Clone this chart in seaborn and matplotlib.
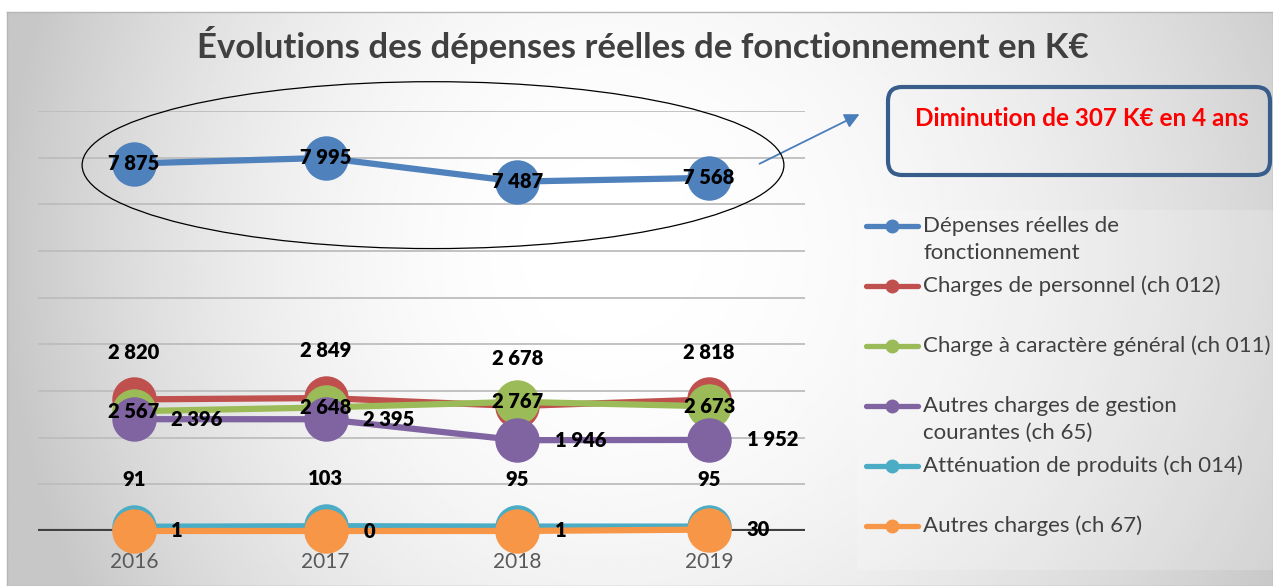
import numpy as np
import pandas as pd
import matplotlib
matplotlib.use("Agg")
import matplotlib.pyplot as plt
from matplotlib.patches import Ellipse, FancyBboxPatch, Rectangle
from matplotlib.lines import Line2D
import seaborn as sns

# Données (K€)
years = ["2016", "2017", "2018", "2019"]
depenses = [7875, 7995, 7487, 7568]
personnel = [2820, 2849, 2678, 2818]
general = [2567, 2648, 2767, 2673]
gestion = [2396, 2395, 1946, 1952]
attenuation = [91, 103, 95, 95]
autres = [1, 0, 1, 30]

series_names = [
    "Dépenses réelles de\nfonctionnement",
    "Charges de personnel (ch 012)",
    "Charge à caractère général (ch 011)",
    "Autres charges de gestion\ncourantes (ch 65)",
    "Atténuation de produits (ch 014)",
    "Autres charges (ch 67)",
]
series_values = [depenses, personnel, general, gestion, attenuation, autres]
colors = ["#4F81BD", "#C0504D", "#9BBB59", "#8064A2", "#4BACC6", "#F79646"]
label_pos = ["center", "above", "center", "right", "above", "right"]

df = pd.DataFrame({
    "Année": years * len(series_names),
    "Série": [n for n in series_names for _ in years],
    "Valeur": [v for vals in series_values for v in vals],
})

sns.set_style("white")
plt.rcParams["font.family"] = ["Lato", "DejaVu Sans"]

W, H = 1273, 586
fig = plt.figure(figsize=(W / 100, H / 100), dpi=100)
fig.patch.set_facecolor("white")


def fx(x):
    return x / W


def fy(y):
    return 1 - y / H


# fond dégradé gris
bg = fig.add_axes([fx(7), 0, 1 - fx(7), 1 - 12 / H], zorder=-10)
xx, yy = np.meshgrid(np.linspace(7, W, 400), np.linspace(12, H, 200))
cx, cy = 600, 250
sx = np.where(xx < cx, 600.0, 780.0)
d = ((xx - cx) / sx) ** 2 + ((yy - cy) / 700.0) ** 2
g = 1 - 0.22 * np.clip(d, 0, 1)
bg.imshow(g, cmap="gray", vmin=0, vmax=1, aspect="auto", interpolation="bilinear")
bg.set_xticks([])
bg.set_yticks([])
for s in bg.spines.values():
    s.set_color("#b5b5b5")
    s.set_linewidth(1)

# panneau de légende
fig.add_artist(Rectangle((fx(857), fy(570)), 1 - fx(857), (570 - 210) / H,
                         transform=fig.transFigure, facecolor="white",
                         alpha=0.18, edgecolor="none", zorder=-5))

ax = fig.add_axes([fx(38), fy(531), fx(805) - fx(38), (531 - 111) / H])
ax.set_facecolor("none")

sns.lineplot(data=df, x="Année", y="Valeur", hue="Série", hue_order=series_names,
             palette=dict(zip(series_names, colors)), marker="o", markersize=32,
             markeredgewidth=0, linewidth=4.5, sort=False, legend=False, ax=ax)
for line in ax.lines:
    line.set_clip_on(False)

ax.set_xlim(-0.5, 3.5)
ax.set_ylim(0, 9000)
for v in range(1000, 9001, 1000):
    ax.axhline(v, color="#bdbdbd", lw=1.3, zorder=0)
ax.axhline(0, color="#404040", lw=3, zorder=1.5)
sns.despine(ax=ax, left=True, bottom=True, top=True, right=True)
ax.set_yticks([])
ax.set_xlabel("")
ax.set_ylabel("")
ax.tick_params(axis="x", length=0, pad=15, labelsize=15, labelcolor="#595959")

# étiquettes de données
for vals, pos in zip(series_values, label_pos):
    for i, v in enumerate(vals):
        txt = f"{v:,}".replace(",", " ")
        if pos == "center":
            off, ha = (0, 0), "center"
        elif pos == "above":
            off, ha = (0, 34), "center"
        else:
            off, ha = (27, 0), "left"
        ax.annotate(txt, (i, v), xytext=off, textcoords="offset points",
                    ha=ha, va="center", fontsize=14.5, fontweight="heavy",
                    color="black", zorder=5, annotation_clip=False)

# ellipse autour des dépenses réelles
ax.add_patch(Ellipse((1.56, 7840), 3.66, 3576, fill=False, edgecolor="black",
                     lw=0.9, clip_on=False, zorder=4))

# titre
fig.text(0.505, fy(45), "Évolutions des dépenses réelles de fonctionnement en K€",
         ha="center", va="center", fontsize=25, fontweight="bold", color="#404040")

# encadré et flèche
fig.add_artist(FancyBboxPatch((888, H - 175), 382, 88,
                              boxstyle="round,pad=0,rounding_size=14",
                              transform=None, facecolor="none",
                              edgecolor="#385D8A", lw=3, zorder=6))
fig.text(fx(1082), fy(119), "Diminution de 307 K€ en 4 ans", ha="center",
         va="center", fontsize=17.5, fontweight="bold", color="#FF0000")
ax.annotate("", xy=(fx(862), fy(113)), xytext=(fx(757), fy(165)),
            xycoords="figure fraction", textcoords="figure fraction",
            arrowprops=dict(arrowstyle="-|>", color="#4A7EBB", lw=1.3,
                            mutation_scale=22), annotation_clip=False)

# légende
rows = [226, 286, 346, 406, 466, 526]
for name, c, yrow in zip(series_names, colors, rows):
    fig.add_artist(Line2D([fx(866), fx(918)], [fy(yrow), fy(yrow)],
                          transform=fig.transFigure, color=c, lw=3.8,
                          solid_capstyle="round", zorder=7))
    fig.add_artist(Line2D([fx(892)], [fy(yrow)], transform=fig.transFigure,
                          color=c, marker="o", markersize=9, lw=0, zorder=7))
    for k, part in enumerate(name.split("\n")):
        fig.text(fx(923), fy(yrow + 27 * k), part, ha="left", va="center",
                 fontsize=16, color="#404040")

fig.savefig("out.png", dpi=100)
